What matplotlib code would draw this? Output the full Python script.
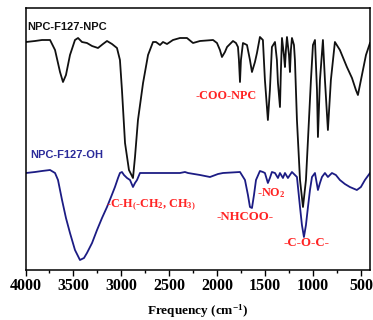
import matplotlib
matplotlib.use("Agg")
import matplotlib.pyplot as plt

plt.rcParams['mathtext.fontset'] = 'custom'
plt.rcParams['mathtext.rm'] = 'Liberation Serif:bold'
plt.rcParams['mathtext.bf'] = 'Liberation Serif:bold'
plt.rcParams['mathtext.it'] = 'Liberation Serif:bold:italic'
plt.rcParams['mathtext.default'] = 'rm'

# NPC-F127-NPC spectrum (wavenumber cm-1, transmittance a.u.)
npc_wn = [3995, 3901, 3828, 3744, 3692, 3640, 3609, 3578, 3536, 3484, 3452, 3411, 3359, 3306,
          3244, 3192, 3150, 3098, 3046, 3015, 2994, 2962, 2921, 2879, 2858, 2827, 2774, 2722,
          2670, 2639, 2597, 2566, 2524, 2462, 2389, 2316, 2253, 2180, 2044, 2003, 1972, 1951,
          1920, 1898, 1836, 1805, 1784, 1774, 1763, 1753, 1732, 1690, 1659, 1638, 1607, 1586,
          1555, 1524, 1503, 1472, 1451, 1430, 1398, 1378, 1367, 1346, 1336, 1325, 1305, 1294,
          1284, 1273, 1252, 1242, 1232, 1221, 1200, 1190, 1169, 1137, 1106, 1075, 1054, 1023,
          1002, 981, 960, 950, 929, 898, 877, 846, 815, 773, 721, 648, 595, 554, 533, 491, 449, 407]
npc_t = [228, 229, 230, 230, 220, 198, 188, 195, 215, 230, 232, 228, 227, 224,
         222, 226, 229, 226, 222, 210, 180, 127, 100, 92, 113, 150, 187, 215,
         228, 228, 225, 228, 226, 230, 232, 232, 227, 229, 230, 227, 220, 213,
         218, 223, 229, 227, 223, 210, 188, 210, 227, 225, 210, 198, 208, 217,
         233, 230, 190, 150, 180, 223, 228, 210, 187, 163, 200, 232, 215, 203,
         220, 233, 215, 198, 220, 232, 225, 210, 150, 90, 63, 90, 130, 190,
         225, 230, 180, 133, 190, 230, 190, 140, 190, 228, 220, 203, 192, 180, 175, 195, 215, 227]

# NPC-F127-OH spectrum
oh_wn = [3995, 3901, 3828, 3744, 3692, 3661, 3619, 3578, 3536, 3484, 3432, 3390, 3359, 3306,
         3254, 3202, 3150, 3108, 3067, 3035, 3015, 2994, 2973, 2941, 2910, 2879, 2858, 2837,
         2806, 2701, 2389, 2337, 2305, 2180, 2076, 1992, 1940, 1763, 1711, 1680, 1659, 1638,
         1617, 1596, 1555, 1524, 1503, 1472, 1451, 1430, 1398, 1367, 1346, 1315, 1294, 1263,
         1221, 1169, 1137, 1117, 1096, 1075, 1054, 1033, 1012, 981, 950, 929, 908, 877, 846,
         804, 763, 721, 669, 617, 544, 502, 460, 407]
oh_t = [97, 98, 99, 100, 97, 90, 70, 52, 37, 20, 10, 12, 17, 27,
        40, 52, 63, 73, 83, 92, 97, 98, 95, 92, 90, 83, 87, 90,
        97, 97, 97, 98, 97, 95, 93, 96, 97, 98, 90, 75, 63, 62,
        75, 90, 99, 98, 97, 87, 92, 98, 97, 92, 97, 92, 97, 92,
        98, 93, 63, 45, 33, 45, 63, 80, 93, 97, 80, 87, 93, 97, 93,
        97, 95, 90, 86, 83, 80, 83, 90, 97]

xticks = [4000, 3500, 3000, 2500, 2000, 1500, 1000, 500]

RED = '#ff2424'
fig = plt.figure(figsize=(3.73, 3.2), dpi=100)
ax = fig.add_axes([25.5 / 373, 1 - 270 / 320, (370 - 25.5) / 373, (270 - 8) / 320])

ax.plot(npc_wn, npc_t, color='#111111', lw=1.3, solid_joinstyle='round')
ax.plot(oh_wn, oh_t, color='#1c1c84', lw=1.3, solid_joinstyle='round')

ax.set_xlim(4000, 407)
ax.set_ylim(0, 262)
ax.set_yticks([])
ax.set_xticks(xticks)
ax.set_xticks([3750, 3250, 2750, 2250, 1750, 1250, 750], minor=True)
ax.tick_params(axis='x', which='major', direction='out', length=4, width=1, pad=2)
ax.tick_params(axis='x', which='minor', direction='out', length=2.5, width=1)
ax.set_xticklabels([str(t) for t in xticks], fontfamily='Liberation Serif',
                   fontweight='bold', fontsize=11.5)
for s in ax.spines.values():
    s.set_linewidth(1.1)
ax.set_xlabel('Frequency (cm$^{-1}$)', fontfamily='Liberation Serif',
              fontweight='bold', fontsize=9.5, labelpad=6)

ax.text(3984, 243, 'NPC-F127-NPC', fontfamily='Liberation Sans', fontweight='bold',
        fontsize=8, color='#111111', ha='left', va='center')
ax.text(3953, 115, 'NPC-F127-OH', fontfamily='Liberation Sans', fontweight='bold',
        fontsize=8, color='#2a2a9a', ha='left', va='center')

serif = dict(fontfamily='Liberation Serif', fontweight='bold', color=RED, ha='left', va='center')
ax.text(2232, 174, '-COO-NPC', fontsize=8.7, **serif)
ax.text(3160, 65, r'-C-H$_{(}$-CH$_{2}$, CH$_{3}$$_{)}$', fontsize=8.7, **serif)
ax.text(1585, 77, r'-NO$_{2}$', fontsize=8.7, **serif)
ax.text(2013, 53, '-NHCOO-', fontsize=9.2, **serif)
ax.text(1304, 27, '-C-O-C-', fontsize=9.2, **serif)

fig.savefig('out.png', dpi=100)
